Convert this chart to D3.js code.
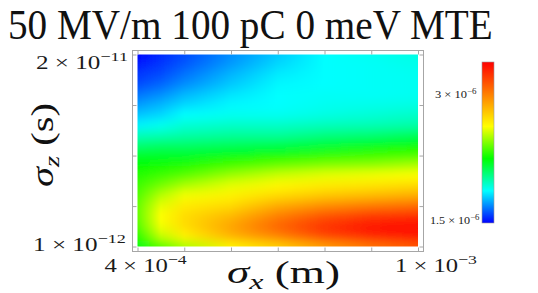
<!DOCTYPE html>
<html>
<head>
<meta charset="utf-8">
<script src="https://cdn.jsdelivr.net/npm/d3@7"></script>
<style>
  body { margin: 0; background: #fff; }
  svg { display: block; }
</style>
</head>
<body>
<svg id="chart" width="538" height="293"></svg>
<script>
// sigma_x columns (m) and sigma_z rows (s), top row first
const sigmaX = [4e-4, 4.5e-4, 5e-4, 6e-4, 7e-4, 8e-4, 9e-4, 1e-3];
const sigmaZ = [20e-12, 19e-12, 18e-12, 17e-12, 16e-12, 15e-12, 14e-12, 13e-12, 12e-12, 11e-12,
                10e-12, 9e-12, 8e-12, 7e-12, 6e-12, 5e-12, 4e-12, 3e-12, 2e-12, 1e-12];
// emittance, in units of 1e-6 (one row per sigmaZ, one column per sigmaX)
const emittanceE6 = [
  [1.50, 1.56, 1.61, 1.71, 1.80, 1.88, 1.90, 1.92],
  [1.54, 1.58, 1.63, 1.73, 1.82, 1.88, 1.89, 1.91],
  [1.58, 1.61, 1.67, 1.77, 1.85, 1.88, 1.89, 1.90],
  [1.61, 1.65, 1.71, 1.80, 1.87, 1.88, 1.89, 1.90],
  [1.67, 1.71, 1.77, 1.84, 1.88, 1.89, 1.89, 1.90],
  [1.73, 1.77, 1.82, 1.87, 1.88, 1.90, 1.91, 1.92],
  [1.79, 1.82, 1.88, 1.90, 1.90, 1.92, 1.94, 1.96],
  [1.86, 1.90, 1.94, 1.96, 1.96, 1.98, 1.99, 2.01],
  [1.98, 1.99, 2.01, 2.03, 2.03, 2.07, 2.09, 2.13],
  [2.09, 2.11, 2.11, 2.13, 2.15, 2.18, 2.22, 2.26],
  [2.20, 2.20, 2.20, 2.24, 2.28, 2.32, 2.34, 2.36],
  [2.26, 2.28, 2.30, 2.36, 2.41, 2.45, 2.47, 2.51],
  [2.31, 2.35, 2.39, 2.49, 2.56, 2.60, 2.62, 2.64],
  [2.35, 2.43, 2.51, 2.60, 2.66, 2.70, 2.72, 2.75],
  [2.38, 2.53, 2.62, 2.68, 2.75, 2.81, 2.85, 2.89],
  [2.41, 2.60, 2.70, 2.75, 2.89, 2.98, 3.04, 3.08],
  [2.41, 2.64, 2.74, 2.85, 3.02, 3.15, 3.23, 3.27],
  [2.39, 2.62, 2.74, 2.91, 3.10, 3.25, 3.34, 3.38],
  [2.33, 2.55, 2.68, 2.87, 3.02, 3.19, 3.29, 3.34],
  [2.24, 2.38, 2.51, 2.68, 2.79, 2.94, 3.06, 3.15]
];
const xTicks = [4e-4, 5e-4, 6e-4, 7e-4, 8e-4, 9e-4, 1e-3];
const yTicks = [1e-12, 5e-12, 1e-11, 1.5e-11, 2e-11];
const colorStops = [1.5, 1.88, 2.26, 2.64, 3.4];
const colorNames = ['#0000ff', '#00ffff', '#00ff00', '#ffff00', '#ff0000'];
const titleText = '50 MV/m 100 pC 0 meV MTE';

const serif = "'Liberation Serif', 'DejaVu Serif', serif";
const svg = d3.select('#chart');
const defs = svg.append('defs');

const x = d3.scaleLinear().domain([4e-4, 1e-3]).range([137.5, 418]);
const y = d3.scaleLinear().domain([1e-12, 2e-11]).range([246.5, 54.5]);
const color = d3.scaleLinear().domain(colorStops).range(colorNames).clamp(true);
const cb = d3.scaleLinear().domain([1.5, 3.4]).range([223, 62]);

const frame = { left: 132, right: 423, top: 50, bottom: 251 };

// one horizontal gradient per sigmaZ row
const x0 = x(sigmaX[0]), x1 = x(sigmaX[sigmaX.length - 1]);
defs.selectAll('linearGradient.row')
  .data(emittanceE6)
  .join('linearGradient')
  .attr('class', 'row')
  .attr('id', (d, i) => 'row' + i)
  .attr('gradientUnits', 'userSpaceOnUse')
  .attr('x1', x0).attr('x2', x1).attr('y1', 0).attr('y2', 0)
  .selectAll('stop')
  .data(d => d)
  .join('stop')
  .attr('offset', (v, j) => (x(sigmaX[j]) - x0) / (x1 - x0))
  .attr('stop-color', v => color(v));

defs.append('clipPath').attr('id', 'plotClip')
  .append('rect')
  .attr('x', x0).attr('y', y(2e-11))
  .attr('width', x1 - x0).attr('height', y(1e-12) - y(2e-11));

const blur = defs.append('filter').attr('id', 'soft')
  .attr('x', '-5%').attr('y', '-10%').attr('width', '110%').attr('height', '120%');
blur.append('feGaussianBlur').attr('stdDeviation', '0.3 5');

// row band edges: half-way between neighbouring rows, ends pushed outside the clip
const last = sigmaZ.length - 1;
const bandTop = i => i === 0 ? y(sigmaZ[0]) - 25 : (y(sigmaZ[i - 1]) + y(sigmaZ[i])) / 2;
const bandBottom = i => i === last ? y(sigmaZ[last]) + 25 : (y(sigmaZ[i]) + y(sigmaZ[i + 1])) / 2;

svg.append('g').attr('clip-path', 'url(#plotClip)')
  .append('g').attr('filter', 'url(#soft)')
  .selectAll('rect')
  .data(emittanceE6)
  .join('rect')
  .attr('x', x0 - 2)
  .attr('width', x1 - x0 + 4)
  .attr('y', (d, i) => bandTop(i) - 0.5)
  .attr('height', (d, i) => bandBottom(i) - bandTop(i) + 1)
  .attr('fill', (d, i) => 'url(#row' + i + ')');

// frame and ticks
svg.append('rect')
  .attr('x', frame.left + 0.5).attr('y', frame.top + 0.5)
  .attr('width', frame.right - frame.left).attr('height', frame.bottom - frame.top)
  .attr('fill', 'none').attr('stroke', '#a6a6a6');

const tickStyle = g => {
  g.select('.domain').remove();
  g.selectAll('line').attr('stroke', '#a6a6a6');
};
svg.append('g').attr('transform', `translate(0,${frame.bottom + 0.5})`)
  .call(d3.axisBottom(x).tickValues(xTicks).tickSize(-4).tickFormat('')).call(tickStyle);
svg.append('g').attr('transform', `translate(0,${frame.top + 0.5})`)
  .call(d3.axisTop(x).tickValues(xTicks).tickSize(-4).tickFormat('')).call(tickStyle);
svg.append('g').attr('transform', `translate(${frame.left + 0.5},0)`)
  .call(d3.axisLeft(y).tickValues(yTicks).tickSize(-4).tickFormat('')).call(tickStyle);
svg.append('g').attr('transform', `translate(${frame.right + 0.5},0)`)
  .call(d3.axisRight(y).tickValues(yTicks).tickSize(-4).tickFormat('')).call(tickStyle);

// text helpers: squeeze/stretch horizontally to a given width
function fit(g, text, left, baseline, width) {
  const b = text.node().getBBox();
  const k = width / b.width;
  g.attr('transform', `translate(${left - b.x * k},${baseline}) scale(${k},1)`);
}
function sciLabel(mant, exp, size, left, baseline, width) {
  const g = svg.append('g');
  const t = g.append('text').attr('font-family', serif).attr('font-size', size).attr('fill', '#1a1a1a');
  t.append('tspan').text(mant + ' \u00d7 10');
  t.append('tspan').attr('font-size', size * 0.72).attr('dy', -size * 0.42).text('\u2212' + exp);
  fit(g, t, left, baseline, width);
}

// y tick labels (ends only)
sciLabel('2', '11', 18, frame.left - 96, y(2e-11) + 14, 92);
sciLabel('1', '12', 18, frame.left - 99, y(1e-12) + 4, 93);
// x tick labels (ends only)
sciLabel('4', '4', 18, x(4e-4) - 33, frame.bottom + 21, 83);
sciLabel('1', '3', 18, x(1e-3) - 23, frame.bottom + 21, 82);

// colour bar
const cbGrad = defs.append('linearGradient').attr('id', 'cbGrad')
  .attr('gradientUnits', 'userSpaceOnUse')
  .attr('x1', 0).attr('x2', 0).attr('y1', cb(1.5)).attr('y2', cb(3.4));
cbGrad.selectAll('stop').data(colorStops).join('stop')
  .attr('offset', v => (v - 1.5) / (3.4 - 1.5))
  .attr('stop-color', v => color(v));
svg.append('rect')
  .attr('x', 482).attr('y', cb(3.4)).attr('width', 12).attr('height', cb(1.5) - cb(3.4))
  .attr('fill', 'url(#cbGrad)').attr('stroke', '#9a9a9a').attr('stroke-width', 0.6);
sciLabel('3', '6', 10, 435, cb(3) + 2.5, 42);
sciLabel('1.5', '6', 10, 430, cb(1.5) + 1, 50);

// title
{
  const g = svg.append('g');
  const t = g.append('text').attr('font-family', serif).attr('font-size', 43).attr('fill', '#111').text(titleText);
  fit(g, t, 8, 39, 485);
}

// axis titles
{
  const g = svg.append('g');
  const t = g.append('text').attr('font-family', serif).attr('font-size', 31).attr('fill', '#111');
  t.append('tspan').attr('font-style', 'italic').text('\u03c3');
  t.append('tspan').attr('font-style', 'italic').attr('font-size', 22).attr('dy', 6).text('x');
  t.append('tspan').attr('dy', -6).text(' (m)');
  fit(g, t, 227, 283, 113);
}
{
  const g = svg.append('g');
  const t = g.append('text').attr('font-family', serif).attr('font-size', 31).attr('fill', '#111');
  t.append('tspan').attr('font-style', 'italic').text('\u03c3');
  t.append('tspan').attr('font-style', 'italic').attr('font-size', 22).attr('dy', 6).text('z');
  t.append('tspan').attr('dy', -6).text(' (s)');
  const b = t.node().getBBox();
  const k = 84 / b.width;
  // rotated: reads bottom to top, centred at y = 145
  g.attr('transform', `translate(53,${145 + 42}) rotate(-90) scale(${k},1) translate(${-b.x},0)`);
}
</script>
</body>
</html>
